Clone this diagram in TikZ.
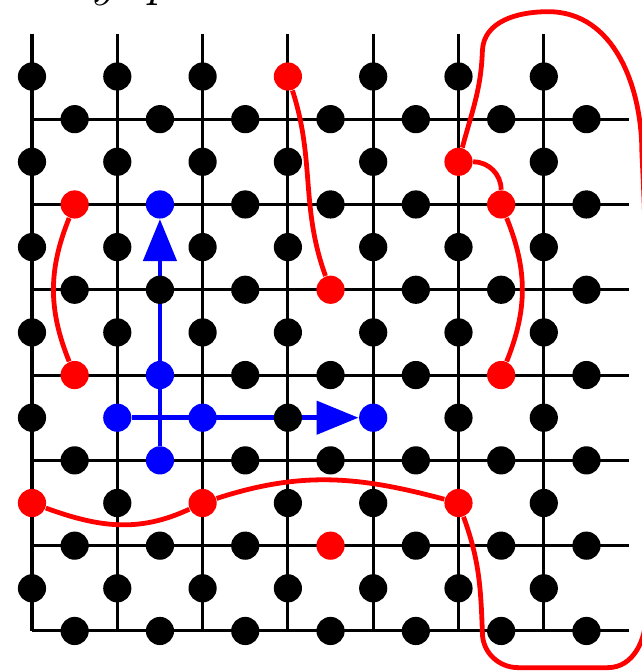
\documentclass[tikz,border=0pt]{standalone}
\usetikzlibrary{arrows.meta}

\pgfdeclarelayer{bg}
\pgfdeclarelayer{mid}
\pgfsetlayers{bg,mid,main}

% colore dei siti (nero se non indicato)
\newcommand{\colsite}[2]{\expandafter\def\csname sc-#1\endcsname{#2}}
\colsite{v-3-6}{red}
\colsite{v-5-5}{red}
\colsite{v-0-1}{red}
\colsite{v-2-1}{red}
\colsite{v-5-1}{red}
\colsite{h-0-5}{red}
\colsite{h-5-5}{red}
\colsite{h-3-4}{red}
\colsite{h-0-3}{red}
\colsite{h-5-3}{red}
\colsite{h-3-1}{red}
\colsite{h-1-5}{blue}
\colsite{h-1-3}{blue}
\colsite{h-1-2}{blue}
\colsite{v-1-2}{blue}
\colsite{v-2-2}{blue}
\colsite{v-4-2}{blue}

\tikzset{
  site/.style={circle, inner sep=0pt, minimum size=9.4pt},
  latt/.style={line width=1pt},
  string/.style={red, line width=1.6pt},
  hop/.style={blue, line width=1.6pt, -{Triangle[length=14pt, width=11pt]}},
}

\begin{document}
\begin{tikzpicture}
\useasboundingbox (-0.375,-0.481) rectangle (7.151,7.397);
% etichetta
\node[anchor=base west, font=\fontsize{16.5pt}{20pt}\selectfont] (lab) at (0.59,7.45) {$y\;\;p$};
% reticolo
\begin{pgfonlayer}{bg}
\foreach \k in {0,...,6} {
  \draw[latt] (\k,0) -- (\k,7);
  \draw[latt] (0,\k) -- (7,\k);
}
\draw[line width=1.3pt] (0,0) -- (0,7);
\end{pgfonlayer}
% siti
\foreach \i in {0,...,6} {
  \foreach \j in {0,...,6} {
    \ifcsname sc-v-\i-\j\endcsname \edef\col{\csname sc-v-\i-\j\endcsname}\else \def\col{black}\fi
    \node[site, fill=\col] (v-\i-\j) at (\i,\j+0.5) {};
    \ifcsname sc-h-\i-\j\endcsname \edef\col{\csname sc-h-\i-\j\endcsname}\else \def\col{black}\fi
    \node[site, fill=\col] (h-\i-\j) at (\i+0.5,\j) {};
  }
}
\begin{pgfonlayer}{mid}
% stringhe
\draw[string] (v-3-6) to[out=-72,in=110] (h-3-4);
\draw[string] (h-0-5) to[out=-112,in=112] (h-0-3);
\draw[string] (v-5-5) to[out=0,in=90] (h-5-5) to[out=-68,in=68] (h-5-3);
\draw[string] (v-0-1) to[out=-20,in=-155] (v-2-1) to[out=18,in=165] (v-5-1);
\draw[string] (v-5-5) to[out=75,in=-92] (5.28,6.8) to[out=88,in=180] (6.05,7.26)
  to[out=0,in=90] (7.15,5.6) to[out=-87,in=90] (7.2,3) -- (7.2,0.2)
  to[out=-90,in=0] (6.75,-0.43) -- (5.7,-0.43) to[out=180,in=-90] (5.28,-0.02)
  to[out=92,in=-70] (v-5-1);
% salti
\draw[hop] (h-1-2) -- (h-1-5);
\draw[hop] (v-1-2) -- (v-4-2);
\end{pgfonlayer}
\end{tikzpicture}
\end{document}
